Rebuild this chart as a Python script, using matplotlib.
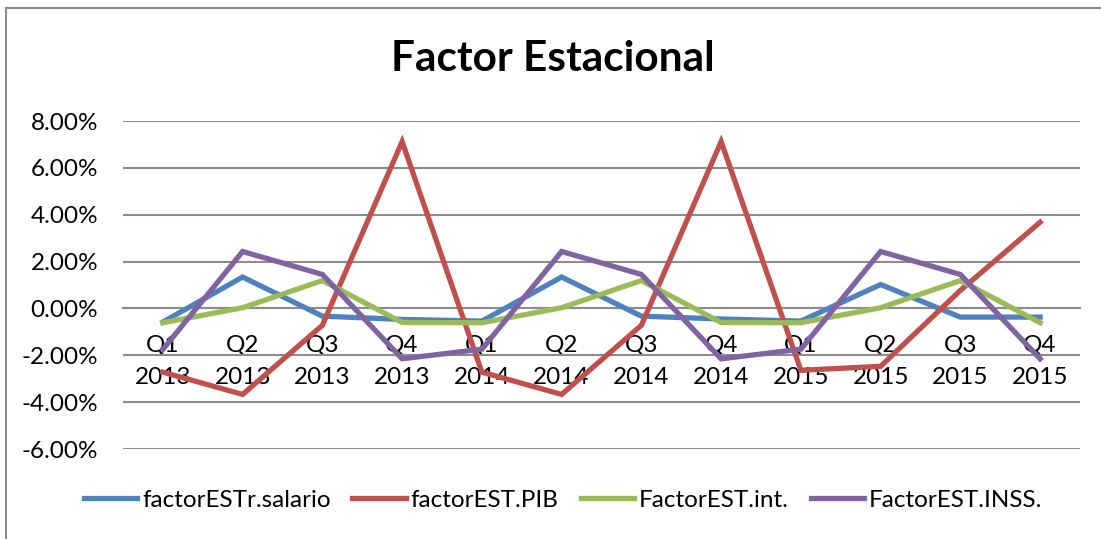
import numpy as np
import matplotlib
matplotlib.use("Agg")
import matplotlib.pyplot as plt
from matplotlib.ticker import FuncFormatter, FixedLocator, FixedFormatter
from matplotlib.patches import Rectangle

plt.rcParams['font.family'] = ['Lato', 'DejaVu Sans']

# categorias (trimestre / año)
quarters = ['Q1', 'Q2', 'Q3', 'Q4'] * 3
years = ['2013'] * 4 + ['2014'] * 4 + ['2015'] * 4

# factores estacionales en %
salario = [-0.58, 1.34, -0.33, -0.47, -0.54, 1.34, -0.33, -0.45, -0.54, 1.02, -0.37, -0.37]
pib = [-2.72, -3.67, -0.72, 7.12, -2.72, -3.67, -0.72, 7.12, -2.64, -2.47, 0.77, 3.68]
interes = [-0.61, 0.03, 1.19, -0.60, -0.61, 0.03, 1.19, -0.60, -0.61, 0.03, 1.19, -0.61]
inss = [-1.75, 2.43, 1.45, -2.15, -1.74, 2.43, 1.45, -2.15, -1.74, 2.43, 1.45, -2.15]

series = [
    ('factorESTr.salario', salario, '#4F81BD'),
    ('factorEST.PIB', pib, '#C0504D'),
    ('FactorEST.int.', interes, '#9BBB59'),
    ('FactorEST.INSS.', inss, '#8064A2'),
]

fig = plt.figure(figsize=(11.01, 5.39), dpi=100)
ax = fig.add_axes([123 / 1101, 1 - 449 / 539, (1080 - 123) / 1101, (449 - 121) / 539])

x = np.arange(len(quarters))
for name, vals, col in series:
    ax.plot(x, vals, color=col, lw=3.8, label=name, solid_joinstyle='miter')

ax.set_xlim(-0.5, len(quarters) - 0.5)
ax.set_ylim(-6, 8)
ax.set_yticks(np.arange(-6, 9, 2))
ax.yaxis.set_major_formatter(FuncFormatter(lambda v, p: '%.2f%%' % v))

# trimestre en la primera linea, año en la segunda
ax.xaxis.remove_overlapping_locs = False
ax.xaxis.set_major_locator(FixedLocator(x))
ax.xaxis.set_major_formatter(FixedFormatter(quarters))
ax.xaxis.set_minor_locator(FixedLocator(x))
ax.xaxis.set_minor_formatter(FixedFormatter(years))

ax.grid(axis='y', color='#8c8c8c', lw=1.5)
ax.set_axisbelow(True)

for s in ['top', 'right', 'left']:
    ax.spines[s].set_visible(False)
ax.spines['bottom'].set_position(('data', 0))
ax.spines['bottom'].set_color('#8c8c8c')
ax.spines['bottom'].set_linewidth(1.5)
ax.spines['bottom'].set_zorder(0)
ax.tick_params(axis='both', which='both', length=0, labelsize=17.5)
ax.tick_params(axis='y', pad=18)
ax.tick_params(axis='x', which='major', pad=19)
ax.tick_params(axis='x', which='minor', pad=42)

fig.text(553 / 1101, 1 - 59 / 539, 'Factor Estacional', ha='center', va='center',
         fontsize=30.5, fontweight='bold')

fig.legend(loc='center', bbox_to_anchor=(563 / 1101, 1 - 500 / 539), ncol=4, frameon=False,
           fontsize=17.5, handlelength=2.2, handletextpad=0.2, columnspacing=0.9)

# marco del grafico
fig.patches.append(Rectangle((6 / 1101, -0.1), 1.2, 1 - 8 / 539 + 0.1, transform=fig.transFigure,
                             fill=False, edgecolor='#8c8c8c', lw=1.5))

fig.savefig('out.png', dpi=100)
